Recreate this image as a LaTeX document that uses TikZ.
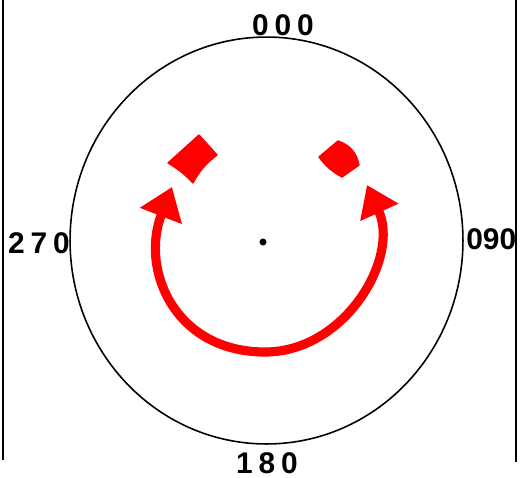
\documentclass[tikz,border=0pt]{standalone}
\usepackage{fontspec}
\newfontfamily\dialfont[LetterSpace=20]{Liberation Sans}
\newfontfamily\dialtight{Liberation Sans}
\usetikzlibrary{shapes.geometric,arrows.meta}
\tikzset{
  dial/.style={
    ellipse, draw=black, line width=0.9pt, inner sep=0pt,
    minimum width=7.86cm, minimum height=8.14cm
  },
  bearing/.style={font=\dialfont\bfseries\fontsize{17}{17}\selectfont, inner sep=0pt},
  hub/.style={circle, fill=black, inner sep=0pt, minimum size=4pt},
  turn/.style={draw=red, line width=5.2pt,
    {Triangle[width=0.86cm,length=0.62cm]}-{Triangle[width=0.8cm,length=0.6cm]}},
  pad/.style={fill=red, draw=red, line width=0.8pt, line join=round},
  sideline/.style={draw=black, line width=1.6pt}
}

\begin{document}
\begin{tikzpicture}[x=0.02cm, y=-0.02cm]
  \useasboundingbox (0,0) rectangle (520,477);
  \clip (0,0) rectangle (520,477);

  % sheet edges
  \draw[sideline] (3,0) -- (3,460);
  \draw[sideline] (516,0) -- (516,462);

  % compass dial and its centre
  \node[dial] (D) at (266.5,240.5) {};
  \node[hub]  (C) at (263,242) {};

  % bearings round the dial
  \node[bearing] (N) at (283,25)  {000};
  \node[bearing, font=\dialtight\bfseries\fontsize{17}{17}\selectfont, anchor=west] (E) at (466,239) {090};
  \node[bearing] (S) at (267,463) {180};
  \node[bearing] (W) at (39,243)  {270};

  % red pads
  \path[pad] (168,163) -- (199,135) -- (217,155) to[bend right=12] (193,183) to[bend right=8] (168,163) -- cycle;
  \path[pad] (319,157) -- (338,141) to[bend left=30] (359,165) -- (342,177) to[bend left=12] (319,157) -- cycle;

  % turning arrow
  \coordinate (lt) at (172,187);
  \coordinate (rt) at (367,185);
  \draw[turn] (lt) .. controls (140,270) and (175,352) .. (265,352)
                   .. controls (345,352) and (400,258) .. (rt);
\end{tikzpicture}
\end{document}
